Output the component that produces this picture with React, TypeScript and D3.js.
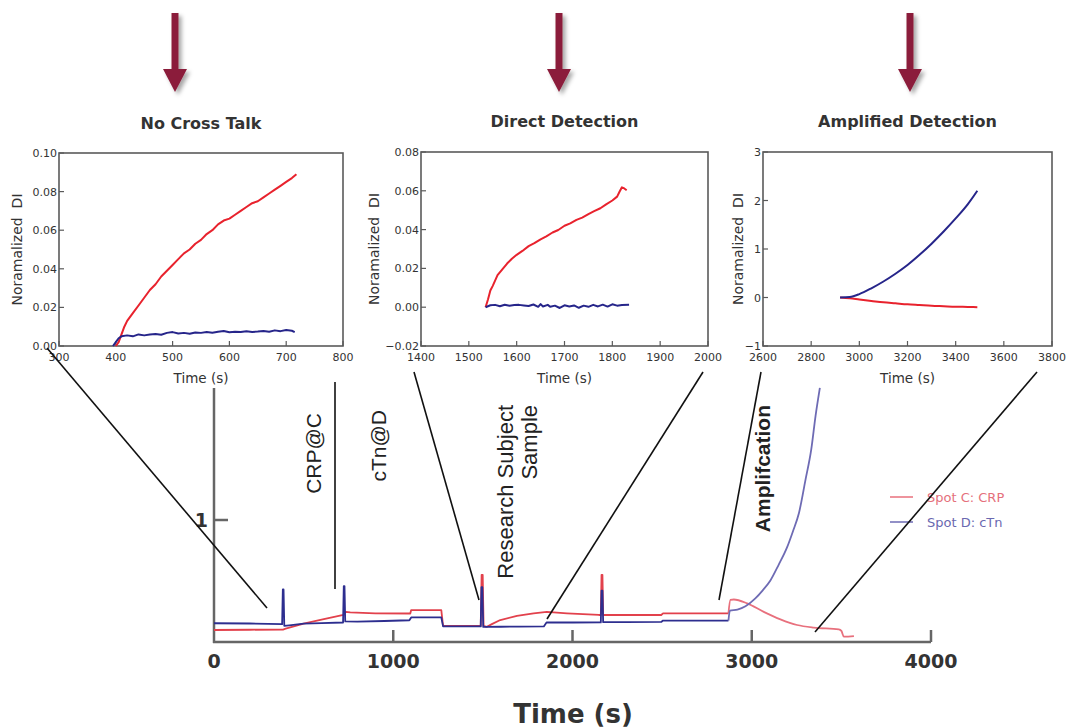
import React from 'react';
import * as d3 from 'd3';

const W = 1069;
const H = 728;

// ---------- Inset data ----------
const insetTitles = ['No Cross Talk', 'Direct Detection', 'Amplified Detection'];
const inset1XTicks = [300, 400, 500, 600, 700, 800];
const inset1YTicks = [0, 0.02, 0.04, 0.06, 0.08, 0.1];
const inset2XTicks = [1400, 1500, 1600, 1700, 1800, 1900, 2000];
const inset2YTicks = [-0.02, 0, 0.02, 0.04, 0.06, 0.08];
const inset3XTicks = [2600, 2800, 3000, 3200, 3400, 3600, 3800];
const inset3YTicks = [-1, 0, 1, 2, 3];

const inset1Red: [number, number][] = [
  [400, 0], [405, 0.002], [410, 0.006], [415, 0.01], [420, 0.013], [430, 0.017], [440, 0.021],
  [450, 0.025], [460, 0.029], [470, 0.032], [480, 0.036], [490, 0.039], [500, 0.042], [510, 0.045],
  [520, 0.048], [530, 0.05], [540, 0.053], [550, 0.055], [560, 0.058], [570, 0.06], [580, 0.063],
  [590, 0.065], [600, 0.066], [610, 0.068], [620, 0.07], [630, 0.072], [640, 0.074], [650, 0.075],
  [660, 0.077], [670, 0.079], [680, 0.081], [690, 0.083], [700, 0.085], [710, 0.087], [718, 0.089],
];
const inset1Blue: [number, number][] = [
  [395, 0], [400, 0.002], [405, 0.004], [410, 0.005], [420, 0.0055], [430, 0.005], [440, 0.006],
  [450, 0.0055], [460, 0.006], [470, 0.0062], [480, 0.0058], [490, 0.0068], [500, 0.0072],
  [510, 0.0065], [520, 0.0068], [530, 0.0063], [540, 0.007], [550, 0.0068], [560, 0.0072],
  [570, 0.0069], [580, 0.0074], [590, 0.0078], [600, 0.0071], [610, 0.0074], [620, 0.0072],
  [630, 0.0076], [640, 0.0073], [650, 0.0075], [660, 0.0078], [670, 0.0074], [680, 0.0081],
  [690, 0.0077], [700, 0.0083], [710, 0.0079], [715, 0.0072],
];
const inset2Red: [number, number][] = [
  [1535, 0], [1540, 0.004], [1545, 0.0086], [1550, 0.011], [1560, 0.0165], [1570, 0.0195],
  [1580, 0.0225], [1590, 0.025], [1600, 0.027], [1612, 0.029], [1625, 0.0315], [1637, 0.033],
  [1650, 0.035], [1662, 0.0365], [1675, 0.0385], [1687, 0.0398], [1700, 0.042], [1712, 0.0432],
  [1725, 0.045], [1737, 0.0462], [1750, 0.048], [1762, 0.0495], [1775, 0.051], [1787, 0.053],
  [1800, 0.055], [1810, 0.057], [1815, 0.0595], [1820, 0.0618], [1825, 0.0612], [1830, 0.0603],
];
const inset2Blue: [number, number][] = [
  [1535, 0], [1545, 0.001], [1555, 0.0012], [1565, 0.0005], [1575, 0.0013], [1585, 0.0008],
  [1595, 0.0011], [1605, 0.0012], [1615, 0.0009], [1625, 0.0006], [1635, 0.0014], [1645, 0.0002],
  [1650, 0.0016], [1655, 0.0004], [1665, 0.0012], [1670, 0.0002], [1680, 0.0008], [1690, -0.0004],
  [1700, 0.001], [1710, 0.0004], [1720, 0.0009], [1730, -0.0003], [1740, 0.0008], [1750, 0.0002],
  [1760, 0.0012], [1770, 0.0004], [1780, 0.0013], [1790, 0.0003], [1800, 0.0015], [1810, 0.0008],
  [1820, 0.0011], [1835, 0.0012],
];
const inset3Blue: [number, number][] = [
  [2920, 0], [2960, 0.01], [3000, 0.07], [3050, 0.19], [3100, 0.33], [3150, 0.49], [3200, 0.67],
  [3250, 0.88], [3300, 1.11], [3350, 1.36], [3400, 1.63], [3450, 1.92], [3490, 2.2],
];
const inset3Red: [number, number][] = [
  [2920, 0], [2960, -0.015], [3000, -0.04], [3050, -0.07], [3100, -0.1], [3150, -0.12], [3200, -0.14],
  [3250, -0.155], [3300, -0.17], [3350, -0.18], [3400, -0.19], [3450, -0.195], [3490, -0.2],
];

// ---------- Main chart data ----------
const mainXTicks = [0, 1000, 2000, 3000, 4000];
const mainYTicks = [1];
const mainBlue: [number, number][] = [
  [0, 0.078], [200, 0.076], [380, 0.07], [384, 0.38], [388, 0.38], [392, 0.055], [420, 0.06],
  [500, 0.075], [600, 0.08], [720, 0.085], [724, 0.41], [728, 0.41], [732, 0.095], [800, 0.092],
  [950, 0.098], [1090, 0.105], [1100, 0.13], [1268, 0.13], [1278, 0.05], [1488, 0.05], [1492, 0.4],
  [1497, 0.4], [1502, 0.045], [1600, 0.047], [1700, 0.048], [1840, 0.05], [1855, 0.085],
  [2000, 0.085], [2158, 0.086], [2162, 0.37], [2167, 0.37], [2171, 0.088], [2300, 0.088],
  [2495, 0.09], [2505, 0.102], [2870, 0.102], [2878, 0.19], [2920, 0.2], [2965, 0.23], [3020, 0.3],
  [3060, 0.37], [3104, 0.46], [3150, 0.6], [3198, 0.76], [3230, 0.9], [3263, 1.06], [3300, 1.36],
  [3332, 1.63], [3356, 1.93], [3380, 2.18],
];
const mainRed: [number, number][] = [
  [0, 0.018], [200, 0.02], [385, 0.022], [400, 0.03], [500, 0.075], [600, 0.11], [722, 0.152],
  [735, 0.18], [760, 0.175], [900, 0.167], [1095, 0.165], [1100, 0.196], [1268, 0.196], [1278, 0.054],
  [1488, 0.054], [1493, 0.51], [1499, 0.51], [1504, 0.054], [1520, 0.045], [1550, 0.07], [1597, 0.107],
  [1690, 0.143], [1783, 0.167], [1857, 0.18], [1969, 0.167], [2147, 0.152], [2158, 0.152],
  [2162, 0.51], [2167, 0.51], [2171, 0.152], [2495, 0.152], [2505, 0.167], [2870, 0.167],
  [2881, 0.286], [2900, 0.29], [2974, 0.256], [3067, 0.18], [3160, 0.113], [3253, 0.0625],
  [3346, 0.039], [3486, 0.024], [3500, 0.01], [3514, -0.042], [3570, -0.036],
];
const legendLabels = ['Spot C: CRP', 'Spot D: cTn'];
const annotations = ['CRP@C', 'cTn@D', 'Research Subject', 'Sample', 'Amplifcation'];

const FONT = '"DejaVu Sans", sans-serif';
const ARIAL = '"Liberation Sans", Arial, sans-serif';
const RED = '#e8222d';
const BLUE = '#26258a';

type InsetProps = {
  box: [number, number, number, number];
  xDomain: [number, number];
  yDomain: [number, number];
  xTicks: number[];
  yTicks: number[];
  fmt: (v: number) => string;
  title: string;
  titleY: number;
  labelX: number;
  red: [number, number][];
  blue: [number, number][];
  smooth?: boolean;
};

function Inset(p: InsetProps) {
  const [x0, y0, x1, y1] = p.box;
  const x = d3.scaleLinear().domain(p.xDomain).range([x0, x1]);
  const y = d3.scaleLinear().domain(p.yDomain).range([y1, y0]);
  const line = d3
    .line<[number, number]>()
    .x((d) => x(d[0]))
    .y((d) => y(d[1]))
    .curve(p.smooth ? d3.curveMonotoneX : d3.curveLinear);
  const cx = (x0 + x1) / 2;
  const cy = (y0 + y1) / 2;
  return (
    <g>
      <text x={cx} y={p.titleY} textAnchor="middle" fontFamily={FONT} fontWeight="bold" fontSize={16} fill="#333">
        {p.title}
      </text>
      <rect x={x0} y={y0} width={x1 - x0} height={y1 - y0} fill="none" stroke="#5a5a5a" strokeWidth={1.6} />
      {p.yTicks.map((t) => (
        <g key={'y' + t}>
          <line x1={x0} x2={x0 + 5} y1={y(t)} y2={y(t)} stroke="#5a5a5a" strokeWidth={1.2} />
          <text x={x0 - 2} y={y(t) + 4} textAnchor="end" fontFamily={FONT} fontSize={11} fill="#333">
            {p.fmt(t)}
          </text>
        </g>
      ))}
      {p.xTicks.map((t) => (
        <g key={'x' + t}>
          <line x1={x(t)} x2={x(t)} y1={y1} y2={y1 - 5} stroke="#5a5a5a" strokeWidth={1.2} />
          <text x={x(t)} y={y1 + 15} textAnchor="middle" fontFamily={FONT} fontSize={11} fill="#333">
            {t}
          </text>
        </g>
      ))}
      <text x={cx} y={y1 + 37} textAnchor="middle" fontFamily={FONT} fontSize={13.5} fill="#333">
        Time (s)
      </text>
      <text
        transform={`translate(${p.labelX},${cy}) rotate(-90)`}
        textAnchor="middle"
        fontFamily={FONT}
        fontSize={14}
        fill="#333"
        xmlSpace="preserve"
      >
        {'Noramalized  DI'}
      </text>
      <path d={line(p.red) || ''} fill="none" stroke={RED} strokeWidth={2} strokeLinejoin="round" />
      <path d={line(p.blue) || ''} fill="none" stroke={BLUE} strokeWidth={2} strokeLinejoin="round" />
    </g>
  );
}

export default function App() {
  // main chart scales
  const mx = d3.scaleLinear().domain([0, 4000]).range([214, 931]);
  const my = d3.scaleLinear().domain([0, 1]).range([632, 520]);
  const mline = d3.line<[number, number]>().x((d) => mx(d[0])).y((d) => my(d[1]));
  const mcurve = d3.line<[number, number]>().x((d) => mx(d[0])).y((d) => my(d[1])).curve(d3.curveMonotoneX);
  const split = 2875;
  const redA = mainRed.filter((d) => d[0] <= split);
  const redB = mainRed.filter((d) => d[0] >= 2870);
  const blueA = mainBlue.filter((d) => d[0] <= split);
  const blueB = mainBlue.filter((d) => d[0] >= 2870);

  const arrowsX = [175, 559, 910];

  const fmt2 = d3.format('.2f');
  const fmt0 = d3.format('d');

  const annPosX = [321, 386, 513, 537, 770];
  const annTop = [413, 410, 405, 405, 405];
  const annSize = [21, 21, 22, 22, 21];
  const annWeight = ['normal', 'normal', 'normal', 'normal', 'bold'];

  const leaders: [number, number, number, number][] = [
    [47, 348, 267, 608],
    [335, 382, 335, 589],
    [414, 372, 479, 600],
    [703, 372, 547, 619],
    [761, 372, 719, 600],
    [1037, 372, 815, 632],
  ];

  return (
    <svg width={W} height={H} style={{ position: 'absolute', left: 0, top: 0, background: '#fff' }}>
      <defs>
        <filter id="shadow" x="-50%" y="-20%" width="200%" height="150%">
          <feDropShadow dx="3" dy="3" stdDeviation="2" floodColor="#000" floodOpacity="0.35" />
        </filter>
      </defs>
      <rect x={0} y={0} width={W} height={H} fill="#fff" />

      {/* arrows */}
      {arrowsX.map((ax) => (
        <path
          key={ax}
          d={`M${ax - 3.5},13 L${ax + 3.5},13 L${ax + 3.5},69 L${ax + 12},69 L${ax},92 L${ax - 12},69 L${ax - 3.5},69 Z`}
          fill="#8b1f3b"
          filter="url(#shadow)"
        />
      ))}

      <Inset
        box={[59, 153, 343, 346]}
        xDomain={[300, 800]}
        yDomain={[0, 0.1]}
        xTicks={inset1XTicks}
        yTicks={inset1YTicks}
        fmt={fmt2}
        title={insetTitles[0]}
        titleY={129}
        labelX={21.5}
        red={inset1Red}
        blue={inset1Blue}
      />
      <Inset
        box={[421, 152, 708, 346]}
        xDomain={[1400, 2000]}
        yDomain={[-0.02, 0.08]}
        xTicks={inset2XTicks}
        yTicks={inset2YTicks}
        fmt={fmt2}
        title={insetTitles[1]}
        titleY={127}
        labelX={379}
        red={inset2Red}
        blue={inset2Blue}
      />
      <Inset
        box={[763, 152, 1052, 346]}
        xDomain={[2600, 3800]}
        yDomain={[-1, 3]}
        xTicks={inset3XTicks}
        yTicks={inset3YTicks}
        fmt={fmt0}
        title={insetTitles[2]}
        titleY={127}
        labelX={743}
        red={inset3Red}
        blue={inset3Blue}
        smooth
      />

      {/* main axes */}
      <line x1={214} x2={214} y1={388} y2={643} stroke="#666" strokeWidth={2.5} />
      <line x1={213} x2={931} y1={642} y2={642} stroke="#666" strokeWidth={2.5} />
      {mainXTicks.filter((t) => t > 0).map((t) => (
        <line key={'mt' + t} x1={mx(t)} x2={mx(t)} y1={642} y2={630} stroke="#666" strokeWidth={2.5} />
      ))}
      {mainXTicks.map((t) => (
        <text key={'ml' + t} x={mx(t)} y={668} textAnchor="middle" fontFamily={FONT} fontWeight="bold" fontSize={19} fill="#333">
          {t}
        </text>
      ))}
      {mainYTicks.map((t) => (
        <g key={'my' + t}>
          <line x1={214} x2={228} y1={my(t)} y2={my(t)} stroke="#666" strokeWidth={2.5} />
          <text x={208} y={my(t) + 7} textAnchor="end" fontFamily={FONT} fontWeight="bold" fontSize={19} fill="#333">
            {t}
          </text>
        </g>
      ))}
      <text x={573} y={723} textAnchor="middle" fontFamily={FONT} fontWeight="bold" fontSize={26} fill="#333">
        Time (s)
      </text>

      {/* main lines */}
      <path d={mline(redA) || ''} fill="none" stroke="#e2414c" strokeWidth={1.8} strokeLinejoin="round" />
      <path d={mline(blueA) || ''} fill="none" stroke="#2d2e8f" strokeWidth={1.8} strokeLinejoin="round" />
      <path d={mcurve(redB) || ''} fill="none" stroke="#e8707d" strokeWidth={1.8} strokeLinejoin="round" />
      <path d={mcurve(blueB) || ''} fill="none" stroke="#6e6bb4" strokeWidth={1.8} strokeLinejoin="round" />

      {/* annotations */}
      {annotations.map((a, i) => (
        <text
          key={a}
          transform={`translate(${annPosX[i]},${annTop[i]}) rotate(-90)`}
          textAnchor="end"
          fontFamily={ARIAL}
          fontSize={annSize[i]}
          fontWeight={annWeight[i]}
          fill="#222"
        >
          {a}
        </text>
      ))}

      {/* legend */}
      <line x1={890} x2={913} y1={497} y2={497} stroke="#e8707d" strokeWidth={1.5} />
      <text x={927} y={501.5} fontFamily={FONT} fontSize={13} fill="#e5707c">
        {legendLabels[0]}
      </text>
      <line x1={890} x2={913} y1={522} y2={522} stroke="#6e6bb4" strokeWidth={1.5} />
      <text x={927} y={526.5} fontFamily={FONT} fontSize={13} fill="#6a68b0">
        {legendLabels[1]}
      </text>

      {/* leader lines */}
      {leaders.map((l, i) => (
        <line key={'ld' + i} x1={l[0]} y1={l[1]} x2={l[2]} y2={l[3]} stroke="#111" strokeWidth={1.6} />
      ))}
    </svg>
  );
}
